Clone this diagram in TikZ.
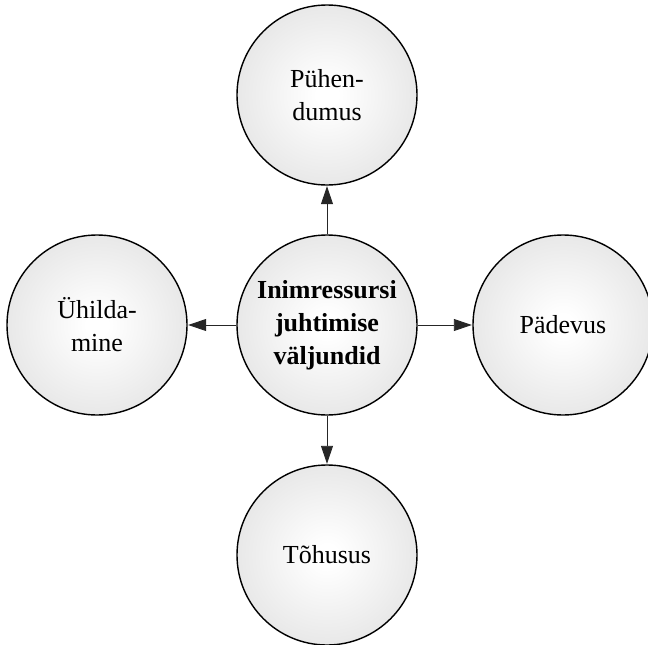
\documentclass[tikz,border=0pt]{standalone}
\usepackage{fontspec}
\setmainfont{Liberation Serif}
\usetikzlibrary{arrows.meta}
% soft white-to-grey fill for the circles
\pgfdeclareradialshading{ballshade}{\pgfpoint{0bp}{0bp}}{%
  color(0bp)=(white); color(3bp)=(white); color(35bp)=(black!13);
  color(50bp)=(black!13)}
\begin{document}
\begin{tikzpicture}[x=1pt,y=-1pt,
  ball/.style={circle, draw=black, line width=1.4pt, minimum size=180pt,
    inner sep=0pt, align=center, shading=ballshade,
    font=\fontsize{26}{33}\selectfont},
  link/.style={draw=black!85, line width=0.9pt,
    -{Triangle[length=18pt,width=12pt]}, shorten >=0.5pt}]
  \useasboundingbox (0,0) rectangle (648,645);
  \clip (0,0) rectangle (648,645);
  \node[ball] (c) at (327,325) {\bfseries Inimressursi\\\bfseries juhtimise\\\bfseries väljundid};
  \node[ball] (t) at (327,95) {Pühen-\\dumus};
  \node[ball] (l) at (97,325) {Ühilda-\\mine};
  \node[ball] (r) at (563,325) {Pädevus};
  \node[ball] (b) at (327,555) {Tõhusus};
  \draw[link] (c) -- (t);
  \draw[link] (c) -- (l);
  \draw[link] (c) -- (r);
  \draw[link] (c) -- (b);
\end{tikzpicture}
\end{document}
